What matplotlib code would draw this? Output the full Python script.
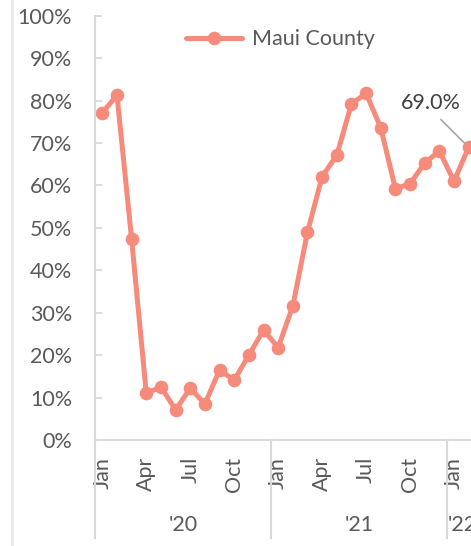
import numpy as np
import matplotlib
matplotlib.use('Agg')
import matplotlib.pyplot as plt
from matplotlib.lines import Line2D

plt.rcParams['font.family'] = ['Lato', 'DejaVu Sans']

# monthly values, Jan 2020 .. Feb 2022
months = ['Jan', 'Feb', 'Mar', 'Apr', 'May', 'Jun', 'Jul', 'Aug', 'Sep', 'Oct', 'Nov', 'Dec',
          'Jan', 'Feb', 'Mar', 'Apr', 'May', 'Jun', 'Jul', 'Aug', 'Sep', 'Oct', 'Nov', 'Dec',
          'Jan', 'Feb']
years = ["'20", "'21", "'22"]
maui = [77.1, 81.3, 47.3, 11.0, 12.5, 7.1, 12.2, 8.5, 16.5, 14.1, 20.0, 25.9,
        21.8, 31.6, 49.0, 62.1, 67.1, 79.2, 81.7, 73.6, 59.2, 60.4, 65.3, 68.1,
        61.0, 69.0]

line_col = '#F68B7C'
txt_col = '#595959'
axis_col = '#D9D9D9'
fs = 15.5

W, H = 471, 546
fig = plt.figure(figsize=(W / 100, H / 100), dpi=100)
# axes extends a bit past the right edge, like the cropped original
ax = fig.add_axes([95 / W, 1 - 440 / H, (476 - 95) / W, (440 - 15.7) / H])

x = np.arange(len(maui))
y = np.array(maui) / 100
ax.plot(x, y, color=line_col, lw=3.6, marker='o', ms=8.8, clip_on=False,
        solid_capstyle='round', label='Maui County')

ax.set_xlim(-0.5, len(maui) - 0.5)
ax.set_ylim(0, 1)
ax.set_yticks(np.arange(0, 1.01, 0.1))
ax.set_yticklabels([f'{int(round(v * 100))}%' for v in np.arange(0, 1.01, 0.1)])

tick_idx = [i for i, m in enumerate(months) if m in ('Jan', 'Apr', 'Jul', 'Oct')]
ax.set_xticks(tick_idx)
ax.set_xticklabels([months[i] for i in tick_idx], rotation=90)

ax.tick_params(axis='y', direction='in', colors=axis_col, labelcolor=txt_col,
               labelsize=fs, length=5, width=1.3, pad=16.5)
ax.tick_params(axis='x', length=0, labelcolor=txt_col, labelsize=fs, pad=12)

for s in ('top', 'right'):
    ax.spines[s].set_visible(False)
for s in ('left', 'bottom'):
    ax.spines[s].set_color(axis_col)
    ax.spines[s].set_linewidth(1.5)

# year group separators and labels
tr = ax.get_xaxis_transform()
for xb in (-0.5, 11.5, 23.5):
    ax.plot([xb, xb], [0, -0.231], transform=tr, color=axis_col, lw=1.5, clip_on=False)
for xc, yr in zip((5.5, 17.5), years[:2]):
    ax.text(xc, -0.2, yr, transform=tr, ha='center', va='center',
            fontsize=fs, color=txt_col)
ax.text(23.58, -0.2, years[2], transform=tr, ha='left', va='center',
        fontsize=fs, color=txt_col)

# data label on last point
ax.annotate(f'{maui[-1]:.1f}%', xy=(x[-1], y[-1]), xytext=(-27, 32),
            textcoords='offset points', ha='center', va='center',
            fontsize=fs, color='#404040',
            arrowprops=dict(arrowstyle='-', color='#A6A6A6', lw=1.2,
                            relpos=(0.55, 0.0), shrinkA=4, shrinkB=3))

ax.legend(loc='upper center', bbox_to_anchor=(0.487, 1.014), frameon=False,
          fontsize=fs, labelcolor=txt_col, handlelength=2.6, handletextpad=0.5)

# faint border line at the left of the figure
fig.add_artist(Line2D([11.5 / W, 11.5 / W], [0, 1], transform=fig.transFigure,
                      color='#EBEBEB', lw=2.2))

fig.savefig('out.png', dpi=100)
